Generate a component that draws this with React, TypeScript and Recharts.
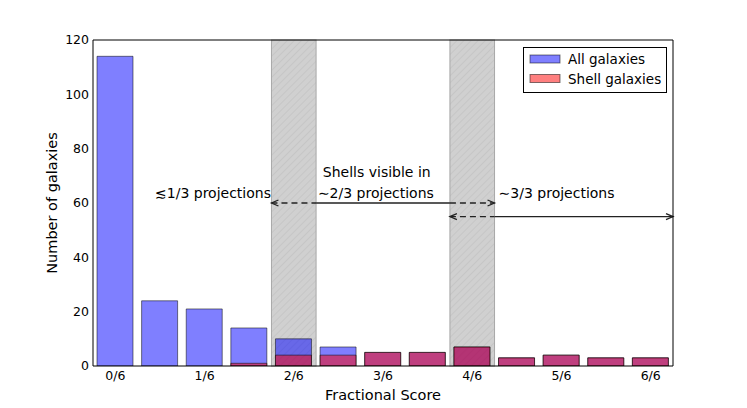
import React from "react";
import {
  BarChart,
  Bar,
  XAxis,
  YAxis,
  ReferenceArea,
  ReferenceLine,
  ReferenceDot,
  Legend,
  Label,
} from "recharts";

// ---- data ----
const scorePositions = [0, 1, 2, 3, 4, 5, 6, 7, 8, 9, 10, 11, 12];
const allGalaxies = [114, 24, 21, 14, 10, 7, 5, 5, 7, 3, 4, 3, 3];
const shellGalaxies = [0, 0, 0, 1, 4, 4, 5, 5, 7, 3, 4, 3, 3];
const xTickValues = [0, 2, 4, 6, 8, 10, 12];
const xTickLabels = ["0/6", "1/6", "2/6", "3/6", "4/6", "5/6", "6/6"];
const yTickValues = [0, 20, 40, 60, 80, 100, 120];
const shadedBins = [4, 8];
const seriesNames = ["All galaxies", "Shell galaxies"];

const data = scorePositions.map((s, i) => ({
  score: s,
  all: allGalaxies[i],
  shell: shellGalaxies[i],
}));

// ---- layout ----
const W = 731;
const H = 400;
const MARGIN = { top: 32, right: 66, bottom: 10, left: 15 };
const X_DOMAIN: [number, number] = [-0.5, 12.5];
const Y_DOMAIN: [number, number] = [0, 120];
const FONT = "'DejaVu Sans', sans-serif";

const BLUE = "#0000ff";
const RED = "#ff0000";

const Arrow = (dashed: boolean, headStart: boolean, headEnd: boolean) => (p: any) => {
  const { x1, y1, x2, y2 } = p;
  const c = "#222";
  const hl = 7;
  const hw = 3;
  return (
    <g>
      <line
        x1={x1}
        y1={y1}
        x2={x2}
        y2={y2}
        stroke={c}
        strokeWidth={1.3}
        strokeDasharray={dashed ? "6 4" : undefined}
      />
      {headStart && (
        <path
          d={`M${x1 + hl},${y1 - hw} L${x1},${y1} L${x1 + hl},${y1 + hw}`}
          fill="none"
          stroke={c}
          strokeWidth={1.3}
        />
      )}
      {headEnd && (
        <path
          d={`M${x2 - hl},${y2 - hw} L${x2},${y2} L${x2 - hl},${y2 + hw}`}
          fill="none"
          stroke={c}
          strokeWidth={1.3}
        />
      )}
    </g>
  );
};

const TextAt = (text: string) => (p: any) => (
  <text
    x={p.cx}
    y={p.cy}
    textAnchor="middle"
    dominantBaseline="central"
    fontSize={14}
    fontFamily={FONT}
    fill="#000"
  >
    {text}
  </text>
);

const HatchArea = (id: string) => (p: any) => {
  const { x, y, width, height } = p;
  return (
    <g>
      <defs>
        <pattern id={id} patternUnits="userSpaceOnUse" width={5} height={5} patternTransform="rotate(45)">
          <rect width={5} height={5} fill="#d0d0d0" />
          <line x1={0} y1={0} x2={0} y2={5} stroke="#bdbdbd" strokeWidth={1} />
        </pattern>
      </defs>
      <rect x={x} y={y} width={width} height={height} fill={`url(#${id})`} stroke="#a8a8a8" strokeWidth={1} />
    </g>
  );
};

const LegendBox = () => {
  const rows = [
    { name: seriesNames[0], color: BLUE },
    { name: seriesNames[1], color: RED },
  ];
  return (
    <svg width={144} height={46} style={{ display: "block" }}>
      <rect x={0.5} y={0.5} width={143} height={45} fill="#fff" stroke="#000" strokeWidth={1} />
      {rows.map((r, i) => (
        <g key={r.name}>
          <rect
            x={7}
            y={8 + i * 19.5}
            width={30}
            height={8}
            fill={r.color}
            fillOpacity={0.5}
            stroke="#000"
            strokeOpacity={0.5}
          />
          <text
            x={45}
            y={12 + i * 19.5}
            dominantBaseline="central"
            fontSize={13.5}
            fontFamily={FONT}
            fill="#000"
          >
            {r.name}
          </text>
        </g>
      ))}
    </svg>
  );
};

export default function App() {
  return (
    <div style={{ width: W, height: H, marginBottom: -8, fontFamily: FONT }}>
      <BarChart width={W} height={H} data={data} margin={MARGIN}>
        {shadedBins.map((b, i) => (
          <ReferenceArea
            key={b}
            xAxisId="x"
            yAxisId="y"
            x1={b - 0.5}
            x2={b + 0.5}
            y1={Y_DOMAIN[0]}
            y2={Y_DOMAIN[1]}
            shape={HatchArea(`hatch${i}`)}
          />
        ))}
        <XAxis
          xAxisId="x"
          dataKey="score"
          type="number"
          domain={X_DOMAIN}
          allowDataOverflow
          ticks={xTickValues}
          interval={0}
          tickFormatter={(v: number) => xTickLabels[xTickValues.indexOf(v)]}
          tickLine={false}
          tickSize={0}
          axisLine={{ stroke: "#000" }}
          height={32}
          tickMargin={5}
          tick={{ fontSize: 12.5, fill: "#000", fontFamily: FONT }}
        >
          <Label
            content={(props: any) => {
              const vb = props.viewBox;
              return (
                <text
                  x={vb.x + vb.width / 2}
                  y={vb.y + 29}
                  textAnchor="middle"
                  dominantBaseline="central"
                  fontSize={14.5}
                  fontFamily={FONT}
                  fill="#000"
                >
                  Fractional Score
                </text>
              );
            }}
          />
        </XAxis>
        <XAxis xAxisId="xs" dataKey="score" type="number" domain={X_DOMAIN} allowDataOverflow hide />
        <XAxis
          xAxisId="xb"
          type="number"
          domain={X_DOMAIN}
          allowDataOverflow
          ticks={xTickValues}
          interval={0}
          orientation="bottom"
          mirror
          tick={false}
          tickSize={5}
          axisLine={false}
          tickLine={{ stroke: "#000" }}
        />
        <XAxis
          xAxisId="xt"
          type="number"
          domain={X_DOMAIN}
          allowDataOverflow
          ticks={xTickValues}
          interval={0}
          orientation="top"
          mirror
          tick={false}
          tickSize={5}
          axisLine={{ stroke: "#000" }}
          tickLine={{ stroke: "#000" }}
        />
        <YAxis
          yAxisId="y"
          type="number"
          domain={Y_DOMAIN}
          allowDataOverflow
          ticks={yTickValues}
          interval={0}
          tickLine={false}
          tickSize={0}
          width={70}
          tickMargin={4}
          axisLine={{ stroke: "#000" }}
          tick={{ fontSize: 12.5, fill: "#000", fontFamily: FONT }}
        >
          <Label
            content={(props: any) => {
              const vb = props.viewBox;
              const cx = vb.x + 29;
              const cy = vb.y + vb.height / 2;
              return (
                <text
                  x={cx}
                  y={cy}
                  transform={`rotate(-90 ${cx} ${cy})`}
                  textAnchor="middle"
                  dominantBaseline="central"
                  fontSize={14.5}
                  fontFamily={FONT}
                  fill="#000"
                >
                  Number of galaxies
                </text>
              );
            }}
          />
        </YAxis>
        <YAxis
          yAxisId="yl"
          type="number"
          domain={Y_DOMAIN}
          allowDataOverflow
          ticks={yTickValues}
          interval={0}
          orientation="left"
          mirror
          tick={false}
          tickSize={5}
          axisLine={false}
          tickLine={{ stroke: "#000" }}
        />
        <YAxis
          yAxisId="yr"
          type="number"
          domain={Y_DOMAIN}
          allowDataOverflow
          ticks={yTickValues}
          interval={0}
          orientation="right"
          mirror
          tick={false}
          tickSize={5}
          axisLine={{ stroke: "#000" }}
          tickLine={{ stroke: "#000" }}
        />
        <Bar
          xAxisId="x"
          yAxisId="y"
          dataKey="all"
          name={seriesNames[0]}
          barSize={36}
          fill={BLUE}
          fillOpacity={0.5}
          stroke="#000"
          strokeOpacity={0.5}
          strokeWidth={1}
          isAnimationActive={false}
        />
        <Bar
          xAxisId="xs"
          yAxisId="y"
          dataKey="shell"
          name={seriesNames[1]}
          barSize={36}
          fill={RED}
          fillOpacity={0.5}
          stroke="#000"
          strokeOpacity={0.5}
          strokeWidth={1}
          isAnimationActive={false}
        />
        {/* arrows */}
        <ReferenceLine xAxisId="x" yAxisId="y" segment={[{ x: 3.5, y: 60 }, { x: 4.5, y: 60 }]} shape={Arrow(true, true, false)} />
        <ReferenceLine xAxisId="x" yAxisId="y" segment={[{ x: 4.5, y: 60 }, { x: 7.5, y: 60 }]} shape={Arrow(false, false, false)} />
        <ReferenceLine xAxisId="x" yAxisId="y" segment={[{ x: 7.5, y: 60 }, { x: 8.5, y: 60 }]} shape={Arrow(true, false, true)} />
        <ReferenceLine xAxisId="x" yAxisId="y" segment={[{ x: 7.5, y: 55 }, { x: 8.5, y: 55 }]} shape={Arrow(true, true, false)} />
        <ReferenceLine xAxisId="x" yAxisId="y" segment={[{ x: 8.5, y: 55 }, { x: 12.5, y: 55 }]} shape={Arrow(false, false, true)} />
        {/* annotations */}
        <ReferenceDot xAxisId="x" yAxisId="y" x={2.19} y={63.8} r={0} shape={TextAt("\u22721/3 projections")} />
        <ReferenceDot xAxisId="x" yAxisId="y" x={5.86} y={71.5} r={0} shape={TextAt("Shells visible in")} />
        <ReferenceDot xAxisId="x" yAxisId="y" x={5.84} y={63.8} r={0} shape={TextAt("\u223c2/3 projections")} />
        <ReferenceDot xAxisId="x" yAxisId="y" x={9.89} y={63.8} r={0} shape={TextAt("\u223c3/3 projections")} />
        <Legend
          layout="vertical"
          align="center"
          verticalAlign="middle"
          wrapperStyle={{ position: "absolute", left: 515, top: 39, width: 144, height: 46 }}
          content={() => <LegendBox />}
        />
      </BarChart>
    </div>
  );
}
